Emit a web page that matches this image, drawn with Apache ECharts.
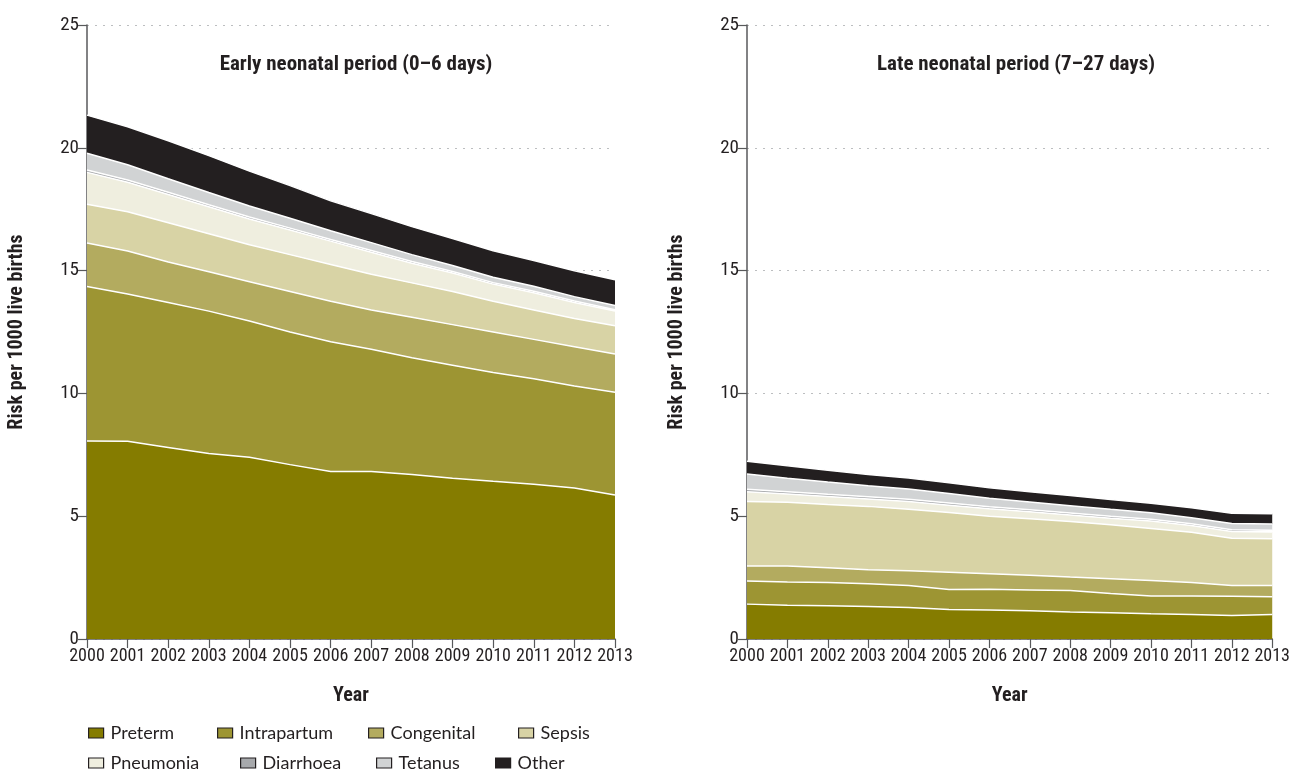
<!DOCTYPE html>
<html><head><meta charset="utf-8">
<script src="https://cdn.jsdelivr.net/npm/echarts@6/dist/echarts.min.js"></script>
<style>html,body{margin:0;padding:0;background:#fff}#c{width:1293px;height:771px}</style>
</head><body><div id="c"></div>
<script>
var years = ['2000','2001','2002','2003','2004','2005','2006','2007','2008','2009','2010','2011','2012','2013'];
var causes = ['Preterm','Intrapartum','Congenital','Sepsis','Pneumonia','Diarrhoea','Tetanus','Other'];
var yTicks = [0,5,10,15,20,25];

// Early neonatal period (risk per 1000 live births, per cause)
var earlyPreterm     = [8.06,8.05,7.80,7.55,7.40,7.10,6.82,6.82,6.70,6.55,6.42,6.30,6.15,5.86];
var earlyIntrapartum = [6.29,6.00,5.90,5.80,5.55,5.40,5.28,4.98,4.75,4.60,4.43,4.30,4.15,4.19];
var earlyCongenital  = [1.77,1.75,1.65,1.60,1.60,1.65,1.65,1.60,1.65,1.65,1.65,1.60,1.60,1.55];
var earlySepsis      = [1.58,1.60,1.60,1.55,1.50,1.50,1.50,1.45,1.40,1.35,1.25,1.20,1.15,1.15];
var earlyPneumonia   = [1.30,1.20,1.15,1.10,1.05,1.00,0.95,0.90,0.80,0.75,0.70,0.70,0.65,0.60];
var earlyDiarrhoea   = [0.10,0.09,0.09,0.08,0.08,0.08,0.07,0.07,0.07,0.06,0.06,0.06,0.06,0.06];
var earlyTetanus     = [0.68,0.62,0.55,0.50,0.45,0.40,0.35,0.32,0.28,0.25,0.22,0.20,0.18,0.17];
var earlyOther       = [1.55,1.55,1.55,1.50,1.42,1.33,1.22,1.18,1.14,1.10,1.08,1.05,1.05,1.05];

// Late neonatal period
var latePreterm     = [1.42,1.37,1.35,1.32,1.28,1.20,1.18,1.15,1.10,1.07,1.03,1.00,0.96,1.00];
var lateIntrapartum = [0.94,0.95,0.95,0.93,0.90,0.82,0.85,0.85,0.87,0.78,0.72,0.75,0.78,0.72];
var lateCongenital  = [0.61,0.65,0.60,0.57,0.60,0.70,0.63,0.60,0.55,0.60,0.63,0.55,0.44,0.46];
var lateSepsis      = [2.63,2.60,2.58,2.58,2.50,2.43,2.34,2.30,2.26,2.20,2.12,2.05,1.92,1.90];
var latePneumonia   = [0.40,0.33,0.32,0.30,0.32,0.30,0.30,0.28,0.27,0.27,0.30,0.27,0.28,0.28];
var lateDiarrhoea   = [0.10,0.10,0.09,0.09,0.09,0.09,0.08,0.08,0.08,0.08,0.08,0.07,0.07,0.07];
var lateTetanus     = [0.62,0.55,0.50,0.45,0.42,0.38,0.35,0.32,0.30,0.28,0.26,0.25,0.25,0.25];
var lateOther       = [0.52,0.50,0.48,0.46,0.45,0.44,0.43,0.42,0.41,0.40,0.39,0.40,0.42,0.42];

var early = [earlyPreterm,earlyIntrapartum,earlyCongenital,earlySepsis,earlyPneumonia,earlyDiarrhoea,earlyTetanus,earlyOther];
var late = [latePreterm,lateIntrapartum,lateCongenital,lateSepsis,latePneumonia,lateDiarrhoea,lateTetanus,lateOther];
var colors = ['#857c00','#9d9533','#b3ab5f','#d8d3a5','#efeedf','#a7a9ac','#d1d3d4','#231f20'];

var NARROW = '"Roboto Condensed","Liberation Sans Narrow","Arial Narrow",Roboto,sans-serif';
var TXT = '#231f20';
var AX = '#58595b';

function xAxis(gi){
  return {
    type:'category', gridIndex:gi, data:years, boundaryGap:false,
    name:'Year', nameLocation:'middle', nameGap:47,
    nameTextStyle:{fontFamily:NARROW, fontWeight:'bold', fontSize:20, color:TXT},
    axisLine:{show:true, onZero:false, lineStyle:{color:AX, width:1.5}},
    axisTick:{show:true, length:9, interval:0, lineStyle:{color:AX, width:1.2}},
    axisLabel:{fontFamily:NARROW, fontSize:18, color:TXT, margin:8, interval:0},
    splitLine:{show:false}
  };
}
function yAxis(gi){
  return {
    type:'value', gridIndex:gi, min:0, max:25, interval:5,
    name:'Risk per 1000 live births', nameLocation:'middle', nameGap:60, nameRotate:90,
    nameTextStyle:{fontFamily:NARROW, fontWeight:'bold', fontSize:20, color:TXT},
    axisLine:{show:true, lineStyle:{color:AX, width:1.5}},
    axisTick:{show:true, length:9, lineStyle:{color:AX, width:1.2}},
    axisLabel:{fontFamily:NARROW, fontSize:19, color:TXT, margin:8,
      formatter:function(v){return yTicks.indexOf(v)>=0?String(v):'';}},
    splitLine:{show:true, lineStyle:{color:'#bcbec0', type:[2,6], width:1.2}}
  };
}

var series = [];
function addSeries(data, gi, stack){
  for (var i=0;i<causes.length;i++){
    series.push({
      name:causes[i], type:'line', xAxisIndex:gi, yAxisIndex:gi, stack:stack,
      symbol:'none', smooth:false,
      lineStyle:{color:'#ffffff', width:1.5},
      areaStyle:{color:colors[i], opacity:1},
      itemStyle:{color:colors[i], borderColor:'#231f20', borderWidth:1},
      emphasis:{disabled:true},
      data: data[i],
      z: 2
    });
  }
}
addSeries(early,0,'early');
addSeries(late,1,'late');

var legendPos = [
  [88,724],[217,724],[368,724],[518,724],
  [88,754],[240,754],[376,754],[495,754]
];
var legends = causes.map(function(c,i){
  return {
    data:[c], left:legendPos[i][0], top:legendPos[i][1],
    icon:'rect', itemWidth:15, itemHeight:10, itemGap:8, padding:0,
    selectedMode:false,
    itemStyle:{borderColor:'#231f20', borderWidth:1.2},
    textStyle:{fontFamily:'"Lato","Open Sans",sans-serif', fontSize:18, color:TXT, padding:[0,0,0,2]}
  };
});

var chart = echarts.init(document.getElementById('c'), null, {renderer:'canvas'});
chart.setOption({
  animation:false,
  backgroundColor:'#fff',
  title:[
    {text:'Early neonatal period (0–6 days)', left:351, top:49, textAlign:'center',
     textStyle:{fontFamily:NARROW, fontWeight:'bold', fontSize:21, color:TXT}},
    {text:'Late neonatal period (7–27 days)', left:1011, top:49, textAlign:'center',
     textStyle:{fontFamily:NARROW, fontWeight:'bold', fontSize:21, color:TXT}}
  ],
  legend:legends,
  grid:[
    {left:87, right:678, top:25, bottom:132, containLabel:false},
    {left:747, right:18, top:25, bottom:132, containLabel:false}
  ],
  xAxis:[xAxis(0), xAxis(1)],
  yAxis:[yAxis(0), yAxis(1)],
  series:series
});
</script></body></html>
